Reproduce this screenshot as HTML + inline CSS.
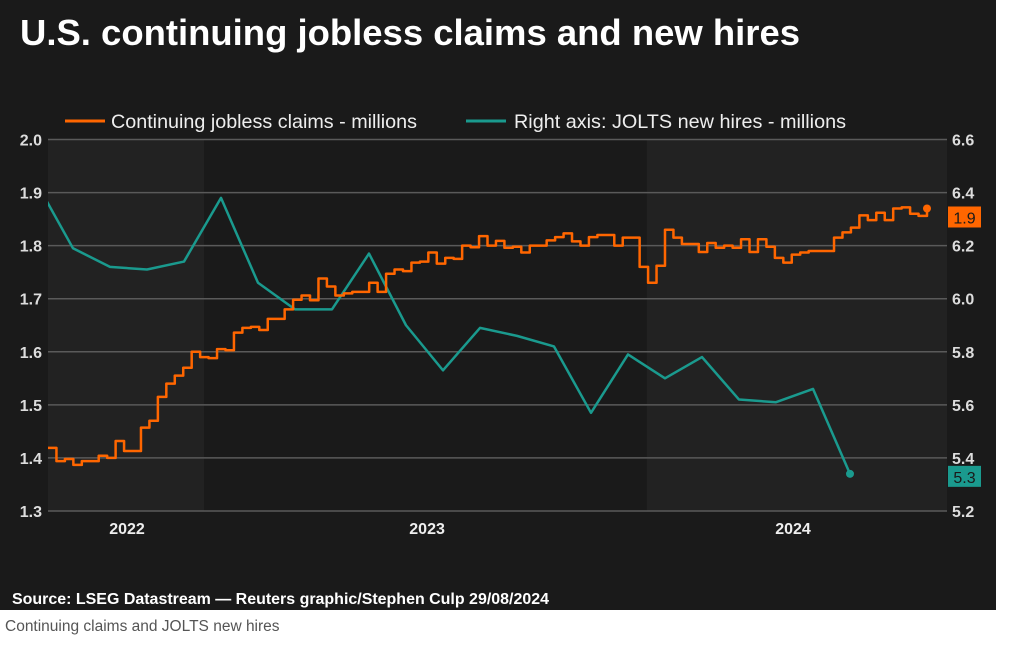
<!DOCTYPE html>
<html><head><meta charset="utf-8"><style>
body{margin:0;width:1020px;height:654px;background:#fff;overflow:hidden;font-family:"Liberation Sans",Arial,sans-serif}
#panel{position:absolute;left:0;top:0;width:996px;height:610px;background:#1a1a1a}
#cap{position:absolute;left:5px;top:618px;font-size:15.5px;color:#555}
</style></head><body>
<div id="panel">
<svg id="chart" width="996" height="610">
<defs><clipPath id="plotclip"><rect x="48" y="100" width="899" height="420"/></clipPath></defs>
<text x="20" y="45" fill="#fff" font-size="36" font-weight="bold" textLength="780" lengthAdjust="spacingAndGlyphs">U.S. continuing jobless claims and new hires</text>
<g>
<line x1="65" y1="121" x2="105" y2="121" stroke="#ff6600" stroke-width="3"/>
<text x="111" y="128" fill="#eee" font-size="19.5" textLength="306" lengthAdjust="spacingAndGlyphs">Continuing jobless claims - millions</text>
<line x1="466" y1="121" x2="506" y2="121" stroke="#1a9a8e" stroke-width="3"/>
<text x="514" y="128" fill="#eee" font-size="19.5" textLength="332" lengthAdjust="spacingAndGlyphs">Right axis: JOLTS new hires - millions</text>
</g>
<text x="12" y="604" fill="#fff" font-size="16" font-weight="bold" textLength="537" lengthAdjust="spacingAndGlyphs">Source: LSEG Datastream — Reuters graphic/Stephen Culp 29/08/2024</text>
</svg></div>
<div id="cap">Continuing claims and JOLTS new hires</div>
<script>
const leftTicks=[1.3,1.4,1.5,1.6,1.7,1.8,1.9,2.0];
const rightTicks=[5.2,5.4,5.6,5.8,6.0,6.2,6.4,6.6];
const yearLabels=["2022","2023","2024"];
const yearMonths=[2.46,10.57,20.46];
const shadeMonths=[[0,4.54],[16.51,24.7]];
const hiresMonths=[0,1,2,3,4,5,6,7,8,9,10,11,12,13,14,15,16,17,18,19,20,21,22];
const hiresVals=[6.44,6.19,6.12,6.11,6.14,6.38,6.06,5.96,5.96,6.17,5.90,5.73,5.89,5.86,5.82,5.57,5.79,5.70,5.78,5.62,5.61,5.66,5.34];
const claimsWeeks=[0,1,2,3,4,6,7,8,9,11,12,13,14,15,16,17,18,19,20,21,22,23,24,25,26,28,29,30,31,32,33,34,35,36,38,39,40,41,42,43,44,45,46,47,48,49,50,51,52,53,54,55,56,57,59,60,61,62,63,64,65,67,68,70,71,72,73,74,75,77,78,79,80,81,82,83,84,85,86,87,88,89,90,91,93,94,95,96,97,98,99,100,101,102,103,104];
const claimsVals=[1.419,1.394,1.398,1.387,1.394,1.404,1.400,1.432,1.413,1.457,1.470,1.515,1.540,1.555,1.570,1.600,1.590,1.588,1.605,1.603,1.636,1.645,1.647,1.641,1.662,1.680,1.698,1.706,1.697,1.738,1.723,1.706,1.710,1.713,1.730,1.713,1.747,1.755,1.752,1.768,1.770,1.787,1.766,1.777,1.775,1.800,1.797,1.818,1.800,1.809,1.796,1.798,1.787,1.800,1.810,1.816,1.823,1.808,1.800,1.816,1.820,1.800,1.815,1.760,1.730,1.762,1.830,1.815,1.803,1.788,1.805,1.796,1.800,1.796,1.812,1.788,1.812,1.798,1.777,1.768,1.783,1.787,1.790,1.790,1.815,1.825,1.834,1.857,1.848,1.862,1.848,1.870,1.872,1.860,1.856,1.870];
const X0=48,X1=947,YT=139.5,YB=511;
const xMonth=m=>36+m*37;
const xWeek=w=>X0+w*(879/104);
const yL=v=>YB-(v-1.3)/0.7*(YB-YT);
const yR=v=>YB-(v-5.2)/1.4*(YB-YT);
const svg=document.getElementById('chart');
const NS='http://www.w3.org/2000/svg';
function mk(t,a){const e=document.createElementNS(NS,t);for(const k in a)e.setAttribute(k,a[k]);svg.appendChild(e);return e;}
shadeMonths.forEach(s=>{const x0=Math.max(X0,xMonth(s[0]));const r=mk('rect',{x:x0,y:YT,width:Math.min(X1,xMonth(s[1]))-x0,height:YB-YT,fill:'#222'});

});
leftTicks.forEach(v=>{const l=mk('line',{x1:X0,x2:X1,y1:yL(v),y2:yL(v),stroke:'#5a5a5a','stroke-width':1.5});


const t=mk('text',{x:42,y:yL(v)+6,fill:'#ddd','font-size':16,'font-weight':'bold','text-anchor':'end'});t.textContent=v.toFixed(1);

});
rightTicks.forEach(v=>{const t=mk('text',{x:952,y:yR(v)+6,fill:'#ddd','font-size':16,'font-weight':'bold'});t.textContent=v.toFixed(1);

});
yearLabels.forEach((s,i)=>{const t=mk('text',{x:xMonth(yearMonths[i]),y:534,fill:'#eee','font-size':16,'font-weight':'bold','text-anchor':'middle'});t.textContent=s;

});
let d='';hiresMonths.forEach((m,i)=>{d+=(i?'L':'M')+xMonth(m)+','+yR(hiresVals[i]);});
const hl=mk('path',{d:d,fill:'none',stroke:'#1a9a8e','stroke-width':2.5,'stroke-linejoin':'round','clip-path':'url(#plotclip)'});


let c='';claimsWeeks.forEach((w,i)=>{const x=xWeek(w),y=yL(claimsVals[i]);if(i===0)c='M'+x+','+y;else c+='H'+x+'V'+y;});
const cl=mk('path',{d:c,fill:'none',stroke:'#ff6600','stroke-width':2.5,'stroke-linejoin':'round'});


const li=hiresVals.length-1,lc=claimsVals.length-1;
const hd=mk('circle',{cx:xMonth(hiresMonths[li]),cy:yR(hiresVals[li]),r:4,fill:'#1a9a8e'});


const cd=mk('circle',{cx:xWeek(claimsWeeks[lc]),cy:yL(claimsVals[lc]),r:4,fill:'#ff6600'});


const tags=[[yL(claimsVals[lc])+9,'#ff6600',claimsVals[lc].toFixed(1),'claims-value-tag'],[yR(hiresVals[li])+3,'#1a9a8e',hiresVals[li].toFixed(1),'hires-value-tag']];
tags.forEach(g=>{const r=mk('rect',{x:948,y:g[0]-11,width:33,height:21,fill:g[1]});


const t=mk('text',{x:964.5,y:g[0]+6,fill:'#1a1a1a','font-size':16,'text-anchor':'middle'});t.textContent=g[2];

});
</script>
</body></html>
